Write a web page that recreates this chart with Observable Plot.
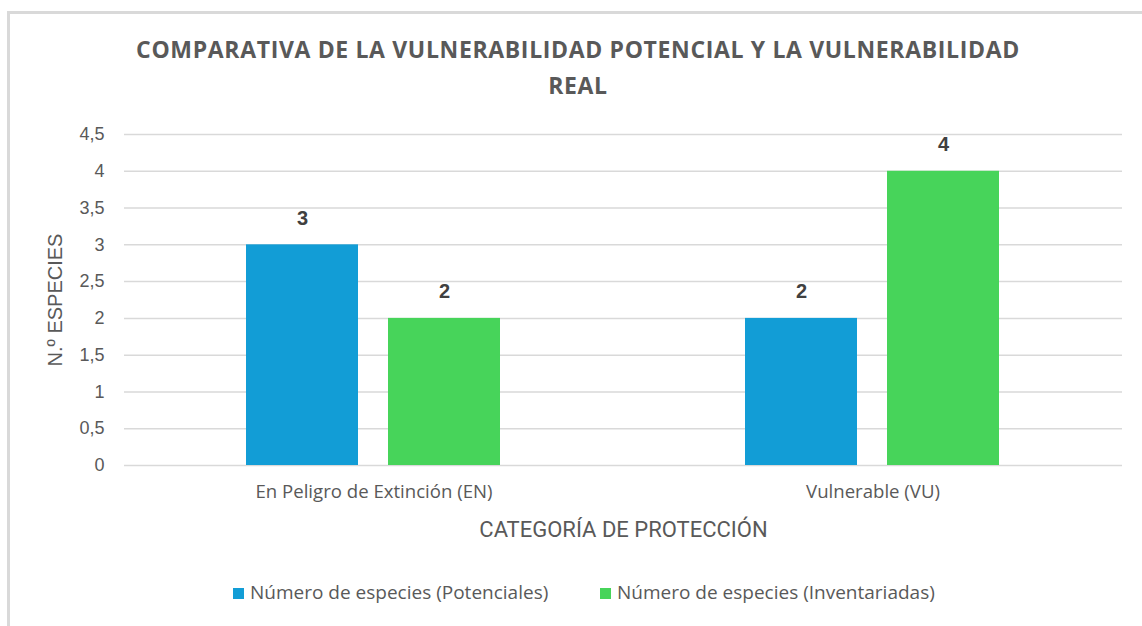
<!DOCTYPE html>
<html>
<head>
<meta charset="utf-8">
<script src="https://cdn.jsdelivr.net/npm/d3@7"></script>
<script src="https://cdn.jsdelivr.net/npm/@observablehq/plot@0.6"></script>
<style>
  html, body { margin: 0; padding: 0; background: #fff; }
  #wrap { position: relative; width: 1142px; height: 626px; overflow: hidden; background: #fff; }
  #frameTop { position: absolute; left: 7px; top: 11px; width: 1135px; height: 3px; background: #d9d9d9; }
  #frameLeft { position: absolute; left: 7px; top: 11px; width: 3px; height: 615px; background: #d9d9d9; }
  #title { position: absolute; left: 0; top: 31px; width: 1156px; text-align: center;
    font-family: "Open Sans", sans-serif; font-weight: 700; font-size: 23px; letter-spacing: 0.65px;
    line-height: 36px; color: #595959; }
  #chart { position: absolute; left: 0; top: 110px; }
  #legend { position: absolute; top: 579px; left: 0; width: 1142px; height: 26px;
    font-family: "Open Sans", sans-serif; font-size: 19px; color: #595959; }
  .item { position: absolute; top: 0; white-space: nowrap; line-height: 26px; }
  .sw { display: inline-block; width: 11px; height: 11px; margin-right: 6px; vertical-align: 0px; }
</style>
</head>
<body>
<div id="wrap">
  <div id="frameTop"></div>
  <div id="frameLeft"></div>
  <div id="title"></div>
  <div id="chart"></div>
  <div id="legend"></div>
</div>
<script>
const titleLines = ["COMPARATIVA DE LA VULNERABILIDAD POTENCIAL Y LA VULNERABILIDAD", "REAL"];
const categories = ["En Peligro de Extinción (EN)", "Vulnerable (VU)"];
const series = ["Número de especies (Potenciales)", "Número de especies (Inventariadas)"];
const potenciales = [3, 2];
const inventariadas = [2, 4];
const yTicks = [0, 0.5, 1, 1.5, 2, 2.5, 3, 3.5, 4, 4.5];
const colors = ["#129dd6", "#47d45a"];
const xTitle = "CATEGORÍA DE PROTECCIÓN";
const yTitle = "N.º ESPECIES";

const data = [];
categories.forEach((c, i) => {
  data.push({category: c, series: series[0], value: potenciales[i]});
  data.push({category: c, series: series[1], value: inventariadas[i]});
});

document.getElementById("title").innerHTML = titleLines.join("<br>");

const chart = Plot.plot({
  width: 1142,
  height: 440,
  marginLeft: 124,
  marginRight: 20,
  marginTop: 24,
  marginBottom: 85,
  style: {color: "#595959", background: "transparent", overflow: "visible"},
  fx: {domain: categories, padding: 0, label: null, axis: null},
  x: {domain: series, paddingInner: 0.211, paddingOuter: 0.859, axis: null},
  y: {domain: [0, 4.5], label: null},
  color: {domain: series, range: colors},
  marks: [
    Plot.gridY(yTicks, {stroke: "#d9d9d9", strokeOpacity: 1, strokeWidth: 1.5}),
    Plot.axisY({ticks: yTicks, tickSize: 0, tickPadding: 20, label: null,
      tickFormat: d => String(d).replace(".", ","),
      fontSize: 18, fontFamily: "Liberation Sans, Arial, sans-serif"}),
    Plot.axisY({ticks: [], label: yTitle, labelAnchor: "center", labelOffset: 77, labelArrow: "none",
      fontSize: 20, fontFamily: "Liberation Sans, Arial, sans-serif"}),
    Plot.axisFx({anchor: "bottom", tickSize: 0, tickPadding: 19, label: null,
      fontSize: 18.6, fontFamily: "Open Sans, sans-serif"}),
    Plot.axisFx({anchor: "bottom", ticks: [], label: xTitle, labelAnchor: "center", labelOffset: 71, labelArrow: "none",
      fontSize: 22, fontFamily: "Roboto, sans-serif"}),
    Plot.barY(data, {fx: "category", x: "series", y: "value", fill: "series"}),
    Plot.text(data, {fx: "category", x: "series", y: "value", text: d => String(d.value),
      dy: -20, lineAnchor: "bottom", fontWeight: "bold", fontSize: 20, fill: "#404040",
      fontFamily: "Liberation Sans, Arial, sans-serif"})
  ]
});
document.getElementById("chart").appendChild(chart);

const legend = document.getElementById("legend");
const legendX = [233, 600];
series.forEach((s, i) => {
  const it = document.createElement("div");
  it.className = "item";
  it.style.left = legendX[i] + "px";
  const sw = document.createElement("span");
  sw.className = "sw";
  sw.style.background = colors[i];
  it.appendChild(sw);
  it.appendChild(document.createTextNode(s));
  legend.appendChild(it);
});
</script>
</body>
</html>
